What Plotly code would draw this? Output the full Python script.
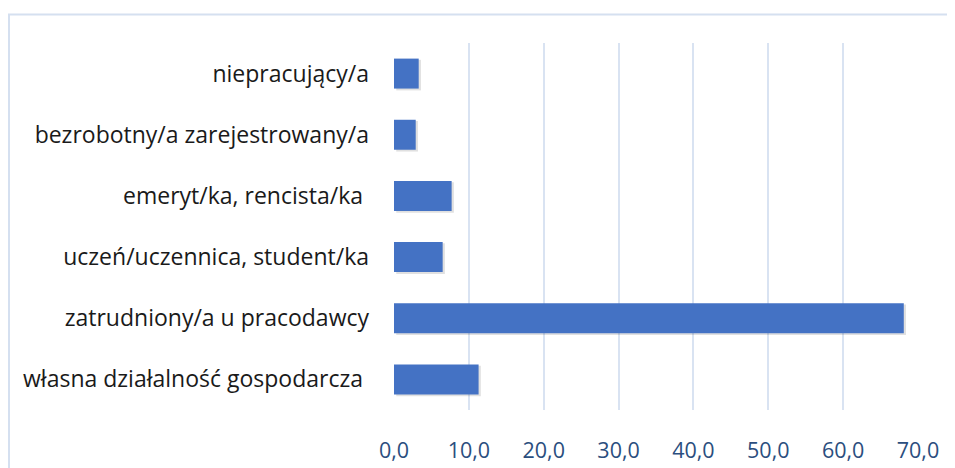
import plotly.graph_objects as go

categories = [
    "własna działalność gospodarcza\u00a0",
    "zatrudniony/a u pracodawcy",
    "uczeń/uczennica, student/ka",
    "emeryt/ka, rencista/ka\u00a0",
    "bezrobotny/a zarejestrowany/a",
    "niepracujący/a",
]
values = [11.3, 68.1, 6.5, 7.7, 2.9, 3.3]
tick_vals = [0, 10, 20, 30, 40, 50, 60, 70]
tick_text = ["0,0", "10,0", "20,0", "30,0", "40,0", "50,0", "60,0", "70,0"]

# page body has an 8px default margin
OFF = 8
W, H = 955 - OFF, 468 - OFF
ml, mr, mt, mb = 394 - OFF, 37, 43 - OFF, 58
pw = W - ml - mr
ph = H - mt - mb

fig = go.Figure()
# soft shadow
fig.add_trace(go.Bar(
    y=categories, x=values, orientation="h",
    marker=dict(color="rgba(0,0,0,0.12)", line=dict(width=0)),
    width=0.5, offset=-0.275, base=0.3,
    hoverinfo="skip", showlegend=False,
))
fig.add_trace(go.Bar(
    y=categories, x=values, orientation="h",
    marker=dict(color="#4472C4", line=dict(width=0)),
    width=0.49, showlegend=False,
))

border = "#D5E0F0"
fig.add_shape(type="rect", xref="paper", yref="paper",
              x0=(1.0 - ml) / pw, x1=1.2,
              y0=-0.3, y1=1 + (mt - (14.5 - OFF)) / ph,
              line=dict(color=border, width=2), layer="below")

fig.update_layout(
    width=W, height=H,
    margin=dict(l=ml, r=mr, t=mt, b=mb, pad=0),
    paper_bgcolor="white", plot_bgcolor="white",
    barmode="overlay",
    font=dict(family="Open Sans, sans-serif"),
)
fig.update_xaxes(
    range=[0, 70], tickvals=tick_vals, ticktext=tick_text,
    showgrid=True, gridcolor="#D9E3F2", gridwidth=1.5,
    zeroline=False, showline=False, ticks="", automargin=False,
    tickfont=dict(size=21.5, color="#2B4E7E"),
    ticklabelstandoff=25,
)
fig.update_yaxes(
    categoryorder="array", categoryarray=categories,
    showgrid=False, zeroline=False, showline=False, ticks="", automargin=False,
    tickfont=dict(size=23, color="#1A1A1A"),
    ticklabelstandoff=24,
)
fig.write_html("out.html")
